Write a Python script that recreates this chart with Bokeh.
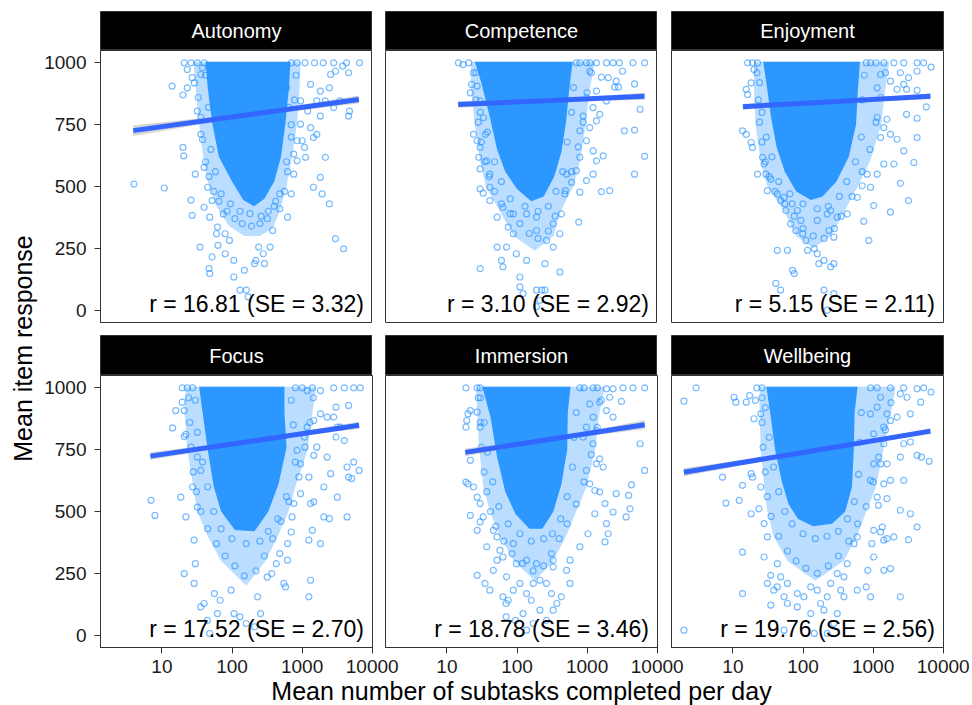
import math
from bokeh.plotting import figure
from bokeh.layouts import row, column
from bokeh.models import Range1d, FixedTicker, PrintfTickFormatter, Label
from bokeh.embed import file_html
from bokeh.resources import INLINE

FONT = "Liberation Sans"
X_START, X_END = 1.33, 10100
Y_START, Y_END = -50, 1050
x_ticks = [10, 100, 1000, 10000]
y_ticks = [0, 250, 500, 750, 1000]

panel_names = ["Autonomy", "Competence", "Enjoyment", "Focus", "Immersion", "Wellbeing"]
r_labels = ["r = 16.81 (SE = 3.32)", "r = 3.10 (SE = 2.92)", "r = 5.15 (SE = 2.11)",
            "r = 17.52 (SE = 2.70)", "r = 18.78 (SE = 3.46)", "r = 19.76 (SE = 2.56)"]
x_title = "Mean number of subtasks completed per day"
y_title = "Mean item response"

# ---- saturated (fully overplotted) core of each cloud: (subtasks/day, response)
autonomy_core = [(42, 1005), (680, 1005), (650, 900), (580, 760), (500, 620), (400, 520), (290, 450),
                 (205, 420), (145, 445), (100, 520), (65, 620), (52, 760), (45, 900)]
competence_core = [(25, 1005), (620, 1005), (560, 900), (500, 760), (430, 640), (340, 540), (240, 460),
                   (160, 440), (100, 490), (68, 560), (52, 650), (41, 780), (31, 920)]
enjoyment_core = [(27, 1005), (650, 1005), (610, 900), (570, 750), (450, 620), (300, 520), (190, 460),
                  (130, 445), (80, 480), (55, 560), (42, 660), (35, 780), (30, 920)]
focus_core = [(34, 1005), (560, 1005), (560, 900), (600, 760), (460, 610), (330, 500), (210, 420),
              (110, 425), (70, 500), (55, 600), (45, 750), (38, 900)]
immersion_core = [(32, 1005), (580, 1005), (530, 900), (520, 750), (430, 610), (330, 500), (230, 430),
                  (150, 430), (95, 490), (68, 580), (52, 720), (42, 880)]
wellbeing_core = [(30, 1005), (600, 1005), (545, 900), (530, 750), (500, 600), (400, 500), (260, 450),
                  (140, 440), (85, 470), (62, 530), (50, 620), (40, 750), (34, 900)]

# ---- moderately dense fringe around each core
autonomy_halo = [(28, 1005), (950, 1005), (920, 900), (850, 760), (720, 620), (600, 500), (480, 400),
                 (380, 330), (250, 300), (150, 300), (90, 340), (60, 420), (45, 520), (38, 640), (33, 780),
                 (30, 920)]
competence_halo = [(22, 1005), (1300, 1005), (1100, 900), (950, 750), (790, 600), (630, 500), (420, 400),
                   (330, 300), (180, 240), (90, 300), (57, 400), (36, 500), (30, 600), (25, 750), (22, 900)]
enjoyment_halo = [(20, 1005), (1700, 1005), (1500, 900), (1300, 750), (900, 600), (600, 500), (390, 400),
                  (250, 300), (140, 250), (80, 300), (54, 400), (31, 500), (25, 600), (21, 750), (20, 900)]
focus_halo = [(22, 1005), (1600, 1005), (1400, 900), (1200, 750), (800, 600), (640, 500), (450, 400),
              (300, 300), (160, 200), (70, 300), (45, 400), (32, 500), (28, 600), (23, 750), (21, 900)]
immersion_halo = [(26, 1005), (1800, 1005), (1500, 900), (1300, 750), (980, 600), (700, 500), (500, 400),
                  (330, 300), (180, 220), (90, 300), (57, 400), (41, 500), (33, 600), (29, 750), (27, 900)]
wellbeing_halo = [(24, 1005), (2100, 1005), (1800, 900), (1400, 750), (1100, 600), (800, 500), (590, 400),
                  (380, 300), (150, 220), (60, 300), (38, 400), (31, 500), (28, 600), (25, 750), (24, 900)]

# ---- individual (sparser) points
autonomy_points = [
    (4.0, 510), (10.8, 494), (14, 906), (20, 870), (20, 658), (20.5, 624), (26, 445), (27, 383), (35, 255),
    (47, 168), (48, 148), (52, 215), (60, 309), (63, 262), (80, 228), (92, 282), (106, 201), (106, 134),
    (130, 81), (150, 161), (160, 81), (170, 54), (210, 188), (220, 201), (240, 255), (280, 228), (290, 188),
    (350, 255), (380, 322), (480, 410), (620, 376), (700, 470), (760, 550), (850, 604), (1000, 685),
    (1120, 618), (1320, 738), (1450, 497), (1620, 711), (1820, 537), (1930, 470), (2150, 618), (2450, 430),
    (3000, 289), (3900, 248), (2822, 1000), (4300, 1000), (6600, 1000), (3800, 987), (4600, 960),
    (3000, 966), (2550, 953), (4750, 805), (4600, 785), (2150, 846), (2450, 899), (1320, 913), (1620, 846),
    (1200, 805), (1820, 785), (950, 752), (1450, 698), (1080, 658), (760, 631), (850, 685), (950, 846),
    (1820, 886), (3450, 846), (2822, 819), (23, 973), (29, 919), (32, 805), (36, 711), (30, 550), (40, 577),
    (45, 497), (40, 416), (52, 443), (48, 376), (62, 336), (75, 389), (80, 309), (20.8, 1000), (26, 1000),
    (32, 1000), (40, 1000), (36, 953), (27, 940), (23, 899), (600, 900), (650, 820), (700, 700), (620, 560),
    (560, 480), (420, 440), (330, 400), (260, 380), (180, 390), (130, 400), (95, 430), (70, 470), (58, 560),
    (50, 650), (46, 820), (42, 950), (700, 1000), (850, 1000), (1100, 1000), (1500, 1000), (2000, 1000),
    (33, 860), (36, 780), (38, 690), (42, 600), (47, 540), (55, 480), (65, 440), (85, 400), (110, 370),
    (140, 350), (190, 340), (250, 350), (320, 370), (400, 420), (480, 470), (600, 600), (700, 750),
    (780, 850), (820, 950), (38, 980)]
competence_points = [
    (14.6, 1000), (17, 993), (20.5, 1000), (787, 1000), (979, 1000), (1360, 1000), (1888, 1000),
    (2345, 1000), (2900, 1000), (4510, 1000), (6620, 1000), (1090, 966), (1600, 942), (2000, 940),
    (2600, 926), (3200, 966), (2480, 902), (2800, 902), (4750, 915), (1360, 886), (979, 859), (1217, 819),
    (1515, 792), (880, 785), (1888, 846), (5700, 812), (3400, 725), (4750, 728), (6620, 622), (4750, 550),
    (1360, 765), (1090, 738), (787, 725), (979, 685), (1217, 644), (1700, 624), (1360, 604), (787, 618),
    (700, 564), (979, 524), (600, 517), (787, 477), (1217, 550), (1600, 479), (2100, 483), (509, 550),
    (490, 483), (22.5, 913), (21.6, 879), (27, 906), (29.8, 846), (24, 711), (27, 685), (29.8, 658),
    (28.4, 618), (29.8, 571), (29.8, 490), (33, 473), (41, 497), (41, 550), (37, 604), (35.5, 711),
    (33.3, 778), (41, 443), (52, 376), (75, 336), (63, 416), (88.6, 389), (71, 255), (29.8, 168), (60, 201),
    (63, 175), (98, 228), (110, 134), (137, 201), (110, 94), (122, 67), (190, 81), (225, 81), (250, 81),
    (190, 14), (212, 40), (409, 154), (250, 188), (328, 255), (409, 309), (264, 282), (430, 389), (760, 356),
    (328, 349), (190, 322), (190, 376), (137, 389), (88.6, 309), (52, 255), (640, 900), (600, 800),
    (520, 680), (450, 560), (360, 480), (280, 420), (200, 400), (130, 420), (80, 450), (60, 520), (48, 600),
    (38, 720), (30, 800), (26, 960), (700, 1000), (1100, 1000),
    (24, 960), (26, 850), (28, 760), (31, 680), (35, 600), (40, 540), (48, 480), (60, 430), (80, 390),
    (110, 350), (150, 310), (200, 290), (280, 320), (350, 380), (480, 470), (600, 560), (750, 660),
    (880, 760), (1000, 880), (1150, 960)]
enjoyment_points = [
    (16.2, 1000), (19, 1000), (22.5, 1000), (20, 973), (918, 1000), (1420, 1000), (1980, 1000),
    (2737, 1000), (4240, 1000), (5260, 1000), (6700, 983), (2450, 960), (3200, 940), (4240, 966),
    (2737, 913), (1767, 926), (1280, 953), (1143, 899), (2200, 893), (3000, 893), (4240, 889), (5750, 822),
    (4240, 776), (3000, 792), (1580, 772), (1143, 779), (1420, 738), (1767, 711), (1280, 698), (2200, 691),
    (4240, 698), (2737, 644), (1980, 591), (3800, 597), (1420, 591), (1143, 550), (820, 550), (918, 497),
    (700, 503), (2450, 513), (3200, 443), (1020, 423), (1767, 396), (870, 282), (738, 359), (594, 456),
    (13.7, 725), (15.5, 711), (18.2, 678), (19, 658), (15.5, 893), (18.2, 919), (16.2, 872), (22.5, 550),
    (26.5, 618), (27.9, 591), (29.5, 550), (31, 483), (34.7, 530), (43, 470), (48, 443), (53.7, 456),
    (57, 403), (70, 430), (66.8, 349), (79, 322), (93, 363), (99, 309), (83, 403), (43, 242), (60, 242),
    (41, 108), (48, 81), (75, 148), (71, 161), (116, 242), (145, 249), (160, 228), (199, 201), (168, 188),
    (248, 175), (275, 188), (110, 282), (222, 389), (235, 322), (275, 295), (308, 376), (428, 389),
    (248, 403), (160, 363), (199, 81), (222, 0), (275, 67), (750, 950), (700, 850), (680, 700), (560, 600),
    (420, 520), (330, 460), (230, 420), (160, 410), (100, 430), (65, 470), (45, 520), (36, 620), (30, 700),
    (26, 800), (24, 920), (800, 1000), (1100, 1000),
    (22, 960), (23, 850), (24, 760), (26, 680), (29, 600), (33, 540), (40, 480), (55, 430), (75, 380),
    (100, 330), (140, 300), (200, 290), (280, 330), (350, 380), (500, 460), (700, 560), (900, 650),
    (1100, 760), (1300, 860), (1500, 960)]
focus_points = [
    (7.0, 545), (7.95, 484), (14.2, 838), (15.8, 908), (19.5, 942), (20.8, 908), (22, 812), (20.8, 803),
    (18.6, 558), (22, 478), (20.8, 249), (28.8, 209), (30, 289), (28.8, 384), (27.5, 599), (32, 518),
    (35.9, 666), (32, 720), (35.9, 114), (40, 128), (44.6, 60), (48, 7), (56, 168), (62, 87), (68, 141),
    (97, 182), (107, 87), (130, 74), (160, 47), (210, 34), (255, 87), (232, 155), (318, 235), (370, 249),
    (430, 289), (480, 330), (620, 370), (700, 417), (620, 303), (549, 209), (580, 195), (720, 478),
    (762, 532), (948, 572), (1320, 532), (1468, 539), (1400, 424), (1250, 384), (1828, 370), (1320, 222),
    (1250, 155), (2040, 478), (2450, 471), (2040, 599), (2550, 653), (3180, 558), (4385, 478), (4600, 639),
    (5100, 633), (6500, 666), (5436, 700), (4385, 680), (4000, 787), (3050, 801), (3180, 841), (3516, 841),
    (3050, 922), (4600, 929), (2822, 882), (2275, 882), (1828, 895), (1468, 868), (1181, 841), (1080, 801),
    (1620, 760), (1468, 727), (948, 693), (850, 747), (1250, 639), (2275, 720), (2822, 1000), (4000, 1000),
    (5436, 1000), (6760, 1000), (1828, 989), (1181, 989), (19.5, 1000), (23, 1000), (27.5, 1000),
    (700, 950), (750, 850), (800, 700), (600, 560), (450, 470), (330, 420), (250, 380), (160, 370),
    (100, 390), (70, 430), (55, 500), (45, 600), (38, 700), (32, 820), (30, 950), (800, 1000), (1000, 1000),
    (1400, 1000),
    (24, 960), (25, 860), (26, 760), (28, 660), (31, 580), (36, 500), (45, 430), (60, 370), (80, 320),
    (110, 280), (150, 240), (220, 260), (290, 320), (380, 390), (500, 460), (650, 540), (900, 640),
    (1100, 760), (1300, 860), (1450, 960)]
immersion_points = [
    (18.7, 1000), (27, 1000), (29.8, 1000), (787, 1000), (1217, 1000), (1888, 996), (2345, 996),
    (3252, 1000), (4510, 1000), (6620, 1000), (2100, 962), (3100, 945), (1515, 942), (1090, 935),
    (1888, 908), (1217, 882), (2345, 882), (979, 841), (1360, 828), (5700, 774), (880, 801), (1217, 774),
    (1515, 713), (1360, 693), (979, 666), (1700, 680), (6620, 666), (4300, 608), (1290, 585), (1515, 579),
    (1090, 612), (2600, 572), (1800, 532), (3900, 565), (4100, 511), (2345, 498), (1290, 491), (1888, 451),
    (3600, 478), (1030, 410), (1800, 377), (2000, 410), (787, 357), (570, 303), (509, 262), (570, 209),
    (430, 155), (370, 128), (328, 101), (310, 168), (264, 209), (212, 222), (18.7, 841), (19.2, 868),
    (20, 895), (21.6, 908), (27, 902), (29.8, 841), (21.6, 707), (18.7, 619), (20, 612), (24, 599),
    (27, 558), (29.8, 532), (21.6, 484), (29.8, 458), (27, 424), (33, 478), (37, 357), (27, 242), (35, 209),
    (41, 182), (46, 262), (52, 303), (57, 343), (63, 316), (71, 236), (63, 155), (75, 141), (88.6, 182),
    (110, 209), (137, 168), (160, 141), (171, 209), (70, 128), (70, 74), (95, 60), (122, 87), (137, 20),
    (171, 47), (212, 101), (264, 60), (190, 289), (137, 303), (98, 289), (328, 303), (328, 276),
    (88.6, 370), (52, 397), (46, 424), (700, 900), (650, 800), (620, 680), (520, 560), (420, 470),
    (320, 410), (240, 390), (160, 380), (110, 410), (75, 450), (55, 520), (45, 620), (38, 740), (34, 860),
    (30, 960), (900, 1000), (1400, 1000),
    (28, 960), (30, 860), (31, 760), (34, 660), (37, 580), (42, 500), (50, 440), (65, 380), (85, 330),
    (120, 290), (170, 260), (240, 280), (310, 330), (400, 390), (520, 450), (700, 530), (900, 620),
    (1150, 730), (1400, 840), (1600, 950)]
wellbeing_points = [
    (2.0, 946), (2.98, 1000), (2.0, 20), (7.1, 639), (7.95, 534), (10.4, 962), (11, 942), (12.3, 545),
    (13.7, 606), (13.7, 336), (13.7, 168), (15.5, 942), (17.3, 969), (18.2, 491), (18.2, 653), (19, 639),
    (20, 875), (21, 949), (23.5, 511), (25, 599), (25, 895), (27.9, 451), (31, 397), (27.9, 316), (31, 209),
    (34.7, 242), (34.7, 121), (38.4, 182), (43, 289), (43, 195), (53.7, 155), (60, 128), (60, 209),
    (48, 236), (53.7, 20), (83, 114), (83, 168), (103, 155), (129, 87), (129, 195), (160, 182), (178, 128),
    (199, 101), (222, 155), (248, 209), (308, 249), (345, 182), (383, 155), (308, 87), (275, 47), (145, 7),
    (222, 7), (383, 236), (428, 289), (535, 370), (594, 397), (594, 182), (800, 195), (918, 155), (840, 262),
    (960, 370), (1020, 424), (1280, 417), (1420, 384), (1980, 397), (1020, 316), (1420, 262), (1767, 269),
    (2450, 155), (1350, 437), (1580, 390), (2450, 505), (3200, 386), (4240, 437), (3404, 491), (2737, 626),
    (1767, 626), (1280, 693), (1143, 558), (1580, 552), (1190, 525), (1420, 612), (918, 626), (1020, 693),
    (1580, 693), (2450, 720), (4240, 727), (4900, 720), (6300, 703), (3404, 781), (2737, 774), (1420, 774),
    (1020, 814), (1420, 841), (1767, 868), (2200, 882), (3404, 895), (4780, 942), (3050, 962), (2450, 976),
    (1280, 962), (1143, 922), (1580, 895), (918, 895), (4240, 996), (5260, 1000), (6700, 983), (2737, 1000),
    (1767, 1000), (1143, 1000), (918, 1000), (680, 900), (650, 780), (620, 650), (540, 540), (430, 470),
    (320, 420), (220, 400), (150, 390), (100, 410), (70, 450), (55, 500), (45, 580), (38, 680), (33, 800),
    (29, 920), (26, 1000), (22, 1000),
    (26, 960), (26, 860), (27, 760), (29, 660), (31, 560), (35, 480), (45, 400), (60, 340), (80, 300),
    (110, 270), (160, 250), (230, 280), (320, 320), (450, 380), (600, 450), (800, 520), (1000, 620),
    (1200, 720), (1500, 830), (1800, 940)]

# ---- fitted lines (x, fit, lower, upper)
autonomy_fit_x, autonomy_fit_y = [3.9, 160, 6450], [726, 789, 852]
autonomy_lo, autonomy_hi = [704, 783, 836], [748, 795, 868]
competence_fit_x, competence_fit_y = [14.5, 310, 6600], [832, 848, 865]
competence_lo, competence_hi = [818, 843, 851], [846, 853, 879]
enjoyment_fit_x, enjoyment_fit_y = [13.9, 300, 6570], [823, 844, 865]
enjoyment_lo, enjoyment_hi = [811, 840, 853], [835, 848, 877]
focus_fit_x, focus_fit_y = [6.85, 210, 6500], [724, 786, 849]
focus_lo, focus_hi = [708, 782, 835], [740, 790, 863]
immersion_fit_x, immersion_fit_y = [18.3, 350, 6640], [739, 795, 851]
immersion_lo, immersion_hi = [723, 790, 833], [755, 800, 869]
wellbeing_fit_x, wellbeing_fit_y = [2.0, 115, 6570], [659, 742, 825]
wellbeing_lo, wellbeing_hi = [643, 738, 813], [675, 746, 837]

cores = [autonomy_core, competence_core, enjoyment_core, focus_core, immersion_core, wellbeing_core]
halos = [autonomy_halo, competence_halo, enjoyment_halo, focus_halo, immersion_halo, wellbeing_halo]
points = [autonomy_points, competence_points, enjoyment_points, focus_points, immersion_points, wellbeing_points]
fits = [(autonomy_fit_x, autonomy_fit_y, autonomy_lo, autonomy_hi),
        (competence_fit_x, competence_fit_y, competence_lo, competence_hi),
        (enjoyment_fit_x, enjoyment_fit_y, enjoyment_lo, enjoyment_hi),
        (focus_fit_x, focus_fit_y, focus_lo, focus_hi),
        (immersion_fit_x, immersion_fit_y, immersion_lo, immersion_hi),
        (wellbeing_fit_x, wellbeing_fit_y, wellbeing_lo, wellbeing_hi)]

PT_COLOR = "#1E90FF"
LEFT_B = [64, 13, 14]
OVER = 28
BOTTOM_B = 40
PAGE_W, PAGE_H = 971, 705
GRID_X = 36


def style_axes(p):
    for ax in p.axis:
        ax.major_tick_out = 6
        ax.major_tick_in = 0
        ax.minor_tick_out = 0
        ax.minor_tick_in = 0
        ax.axis_line_color = "#333333"
        ax.major_tick_line_color = "#333333"
        ax.major_label_text_font = FONT
        ax.major_label_text_font_size = "19px"
        ax.major_label_text_color = "#1a1a1a"
    for ax in p.xaxis:
        ax.ticker = FixedTicker(ticks=x_ticks)
        ax.formatter = PrintfTickFormatter(format="%d")
        ax.major_label_standoff = 6
    for ax in p.yaxis:
        ax.ticker = FixedTicker(ticks=y_ticks)
        ax.major_label_standoff = 8


def make_header(name, col, r):
    h = figure(frame_width=272, frame_height=39 if r == 0 else 40,
               x_range=Range1d(0, 1), y_range=Range1d(0, 1),
               output_backend="svg", toolbar_location=None,
               x_axis_location=None, y_axis_location=None,
               min_border_left=LEFT_B[col], min_border_right=OVER if col == 2 else 0,
               min_border_top=11 if r == 0 else 0, min_border_bottom=0)
    h.background_fill_color = "black"
    h.border_fill_color = None
    h.outline_line_color = "#333333"
    h.grid.visible = False
    h.add_layout(Label(x=0.5, y=0.5, text=name, text_align="center", text_baseline="middle",
                       text_color="white", text_font=FONT, text_font_size="20px"))
    return h


def make_panel(i, col, r):
    bottom = (r == 1)
    right_b = OVER if (col == 2 or bottom) else 0
    p = figure(frame_width=272, frame_height=272, x_axis_type="log",
               x_range=Range1d(X_START, X_END), y_range=Range1d(Y_START, Y_END),
               output_backend="svg", toolbar_location=None,
               x_axis_location="below" if bottom else None,
               y_axis_location="left" if col == 0 else None,
               min_border_left=LEFT_B[col], min_border_right=right_b,
               min_border_top=0, min_border_bottom=BOTTOM_B if bottom else 13)
    p.background_fill_color = "white"
    p.border_fill_color = None
    p.outline_line_color = "#333333"
    p.outline_line_width = 1
    p.grid.visible = False
    style_axes(p)

    hx = [c[0] for c in halos[i]]
    hy = [c[1] for c in halos[i]]
    p.patch(hx, hy, fill_color=PT_COLOR, fill_alpha=0.3, line_color=None)
    cx = [c[0] for c in cores[i]]
    cy = [c[1] for c in cores[i]]
    p.patch(cx, cy, fill_color=PT_COLOR, fill_alpha=0.92, line_color=None)
    px = [q[0] for q in points[i]]
    py = [q[1] for q in points[i]]
    p.scatter(px, py, marker="circle", size=6, fill_color=None, line_color=PT_COLOR,
              line_alpha=0.6, line_width=1.2)
    fx, fy, lo, hi = fits[i]
    p.varea(x=fx, y1=lo, y2=hi, fill_color="#999999", fill_alpha=0.4)
    p.line(fx, fy, line_color="#3366FF", line_width=5)
    p.add_layout(Label(x=X_END, y=Y_START, x_offset=-8.5, y_offset=19, text=r_labels[i],
                       text_align="right", text_baseline="alphabetic", text_color="black",
                       text_font=FONT, text_font_size="23px"))
    if bottom and col > 0:
        p.styles = {"margin-left": "-%dpx" % OVER}
    return p


headers1 = [make_header(panel_names[c], c, 0) for c in range(3)]
panels1 = [make_panel(c, c, 0) for c in range(3)]
headers2 = [make_header(panel_names[3 + c], c, 1) for c in range(3)]
panels2 = [make_panel(3 + c, c, 1) for c in range(3)]

# full-page backdrop carrying the two shared axis titles (pixel coordinates)
bg = figure(width=PAGE_W, height=PAGE_H, x_range=Range1d(0, PAGE_W), y_range=Range1d(0, PAGE_H),
            output_backend="svg", toolbar_location=None,
            x_axis_location=None, y_axis_location=None, min_border=0)
bg.outline_line_color = None
bg.border_fill_color = None
bg.background_fill_color = None
bg.grid.visible = False
bg.add_layout(Label(x=521, y=PAGE_H - 690, text=x_title,
                    text_align="center", text_baseline="alphabetic", text_color="black",
                    text_font=FONT, text_font_size="25px"))
bg.add_layout(Label(x=22, y=PAGE_H - 348, angle=math.pi / 2, text=y_title,
                    text_align="center", text_baseline="middle", text_color="black",
                    text_font=FONT, text_font_size="25px"))

grid = column(row(*headers1), row(*panels1), row(*headers2), row(*panels2))
grid.styles = {"margin-left": "-%dpx" % (PAGE_W - GRID_X)}
layout = row(bg, grid)

open("out.html", "w").write(file_html(layout, INLINE))
